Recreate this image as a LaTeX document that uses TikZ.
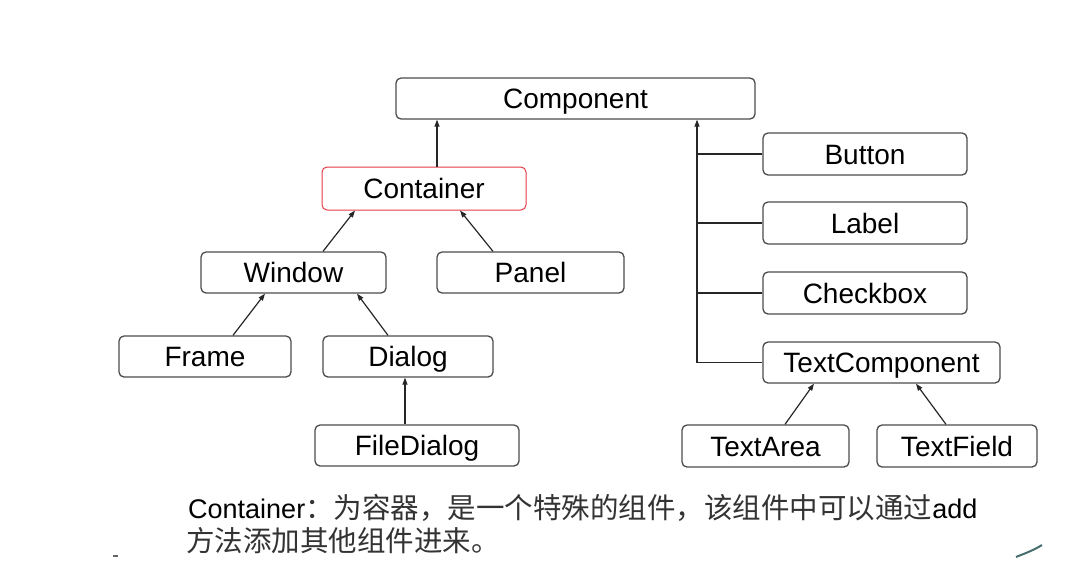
\documentclass[tikz,border=0pt]{standalone}
\usepackage{fontspec}
\setmainfont{Liberation Sans}
\newfontfamily\cjk{Noto Sans CJK SC}
\usetikzlibrary{arrows.meta}
\begin{document}
\begin{tikzpicture}[x=1pt,y=-1pt,
  box/.style={draw=black!70,line width=1.3pt,rounded corners=5pt,fill=white,inner sep=0pt,
     minimum height=41pt,font=\fontsize{28}{32}\selectfont,text=black,text height=20pt,text depth=0pt},
  redbox/.style={box,draw={rgb,255:red,226;green,60;blue,70},line width=1pt},
  arr/.style={line width=1.2pt,draw=black!85,-{Triangle[length=7pt,width=5pt]}},
  ln/.style={line width=1.2pt,draw=black!85}]
\useasboundingbox (0,0) rectangle (1082,574);
\node[box,minimum width=359pt] (comp) at (575.5,98.5) {Component};
\node[redbox,minimum width=204pt,minimum height=43pt] (cont) at (424,188.5) {Container};
\node[box,minimum width=185pt] (win) at (293.5,272.5) {Window};
\node[box,minimum width=187pt] (panel) at (530.5,272.5) {Panel};
\node[box,minimum width=172pt] (frame) at (205,356.5) {Frame};
\node[box,minimum width=170pt] (dialog) at (408,356.5) {Dialog};
\node[box,minimum width=204pt] (fdialog) at (417,445.5) {FileDialog};
\node[box,minimum width=204pt,minimum height=42pt] (button) at (865,154) {Button};
\node[box,minimum width=204pt,minimum height=42pt] (label) at (865,223) {Label};
\node[box,minimum width=204pt,minimum height=42pt] (check) at (865,293) {Checkbox};
\node[box,minimum width=237pt] (tcomp) at (881.5,362.5) {TextComponent};
\node[box,minimum width=167pt,minimum height=42pt] (tarea) at (765.5,446) {TextArea};
\node[box,minimum width=160pt,minimum height=42pt] (tfield) at (957,446) {TextField};
% connectors
\draw[arr] (cont.north -| 437,0) -- (comp.south -| 437,0);
\coordinate (tb) at (697,362.5);
\draw[arr] (tb) -- (comp.south -| tb);
\draw[ln] (tb) -- (tcomp.west);
\draw[ln] (button.west -| tb) -- (button.west);
\draw[ln] (label.west -| tb) -- (label.west);
\draw[ln] (check.west -| tb) -- (check.west);
\draw[arr] (win.north -| 323,0) -- (cont.south -| 355,0);
\draw[arr] (panel.north -| 493,0) -- (cont.south -| 460,0);
\draw[arr] (frame.north -| 233,0) -- (win.south -| 265,0);
\draw[arr] (dialog.north -| 388,0) -- (win.south -| 357,0);
\draw[arr] (fdialog.north -| 405,0) -- (dialog.south -| 405,0);
\draw[arr] (tarea.north -| 785,0) -- (tcomp.south -| 814,0);
\draw[arr] (tfield.north -| 946,0) -- (tcomp.south -| 916,0);
% caption
\node[anchor=base west,inner sep=0pt,font=\fontsize{27}{32}\selectfont] (cap1) at (188,518)
  {Container{\cjk\fontsize{28.5}{32}\selectfont\color{black!80}：为容器，是一个特殊的组件，该组件中可以通过}add};
\node[anchor=base west,inner sep=0pt,font=\cjk\fontsize{28.5}{32}\selectfont,text=black!80] (cap2) at (186,551)
  {方法添加其他组件进来。};
% stray marks
\draw[line width=1.2pt,black!60] (113,556) -- (118,556);
\draw[line width=2pt,color={rgb,255:red,70;green,110;blue,110}] (1016,557) .. controls (1026,553) and (1034,550) .. (1042,545);
\end{tikzpicture}
\end{document}
